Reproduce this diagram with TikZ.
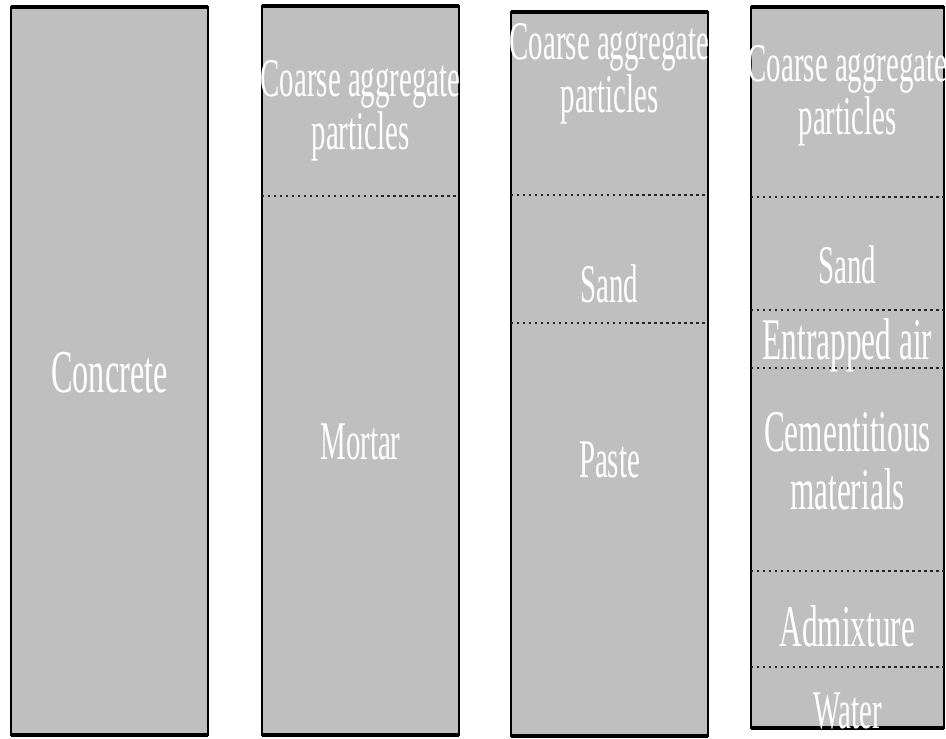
\documentclass[tikz,border=0pt]{standalone}
\usepackage{fontspec}
\setmainfont{Liberation Serif}[FakeStretch=0.53]
\tikzstyle{col}=[fill=black!25,draw=black,line width=0.6pt]
\tikzstyle{edge}=[line width=1.3pt]
\tikzstyle{sep}=[densely dotted,line width=0.7pt,black!85]
\tikzstyle{lab}=[text=white,align=center,inner sep=0pt,font=\fontsize{15.5}{13.5}\selectfont]
\tikzstyle{big}=[font=\fontsize{17.3}{17.3}\selectfont]
\tikzstyle{wide}=[font=\fontsize{16.8}{16.5}\selectfont]

\begin{document}
\begin{tikzpicture}
\useasboundingbox (0,0) rectangle (9.46,7.38);
% concrete
\draw[col] (0.11,0.03) rectangle (2.08,7.31);
\draw[edge] (0.11,7.31) -- (2.08,7.31);
\draw[edge] (0.11,0.03) -- (2.08,0.03);
\node[lab,big,anchor=base] (concrete) at (1.095,3.46) {Concrete};
% mortar
\draw[col] (2.62,0.03) rectangle (4.59,7.32);
\draw[edge] (2.62,7.32) -- (4.59,7.32);
\draw[edge] (2.62,0.03) -- (4.59,0.03);
\draw[sep] (2.62,5.42) -- (4.59,5.42);
\node[lab] (coarse2) at (3.605,6.27) {Coarse aggregate\\particles};
\node[lab,anchor=base] (mortar) at (3.605,2.79) {Mortar};
% paste
\draw[col] (5.11,0.02) rectangle (7.08,7.26);
\draw[edge] (5.11,7.26) -- (7.08,7.26);
\draw[edge] (5.11,0.02) -- (7.08,0.02);
\draw[sep] (5.11,5.43) -- (7.08,5.43);
\draw[sep] (5.11,4.15) -- (7.08,4.15);
\node[lab] (coarse3) at (6.095,6.64) {Coarse aggregate\\particles};
\node[lab,anchor=base] (sand3) at (6.095,4.36) {Sand};
\node[lab,anchor=base] (paste) at (6.095,2.61) {Paste};
% ingredients
\draw[col] (7.51,0.10) rectangle (9.44,7.31);
\draw[edge] (7.51,7.31) -- (9.44,7.31);
\draw[edge] (7.51,0.10) -- (9.44,0.10);
\draw[sep] (7.51,5.41) -- (9.44,5.41);
\draw[sep] (7.51,4.28) -- (9.44,4.28);
\draw[sep] (7.51,3.70) -- (9.44,3.70);
\draw[sep] (7.51,1.67) -- (9.44,1.67);
\draw[sep] (7.51,0.71) -- (9.44,0.71);
\node[lab] (coarse4) at (8.475,6.42) {Coarse aggregate\\particles};
\node[lab,anchor=base] (sand4) at (8.475,4.55) {Sand};
\node[lab,wide,anchor=base] (air) at (8.475,3.79) {Entrapped air};
\node[lab,wide] (cement) at (8.475,2.77) {Cementitious\\materials};
\node[lab,wide,anchor=base] (admix) at (8.475,0.92) {Admixture};
\node[lab,anchor=base] (water) at (8.475,0.10) {Water};
\end{tikzpicture}
\end{document}
